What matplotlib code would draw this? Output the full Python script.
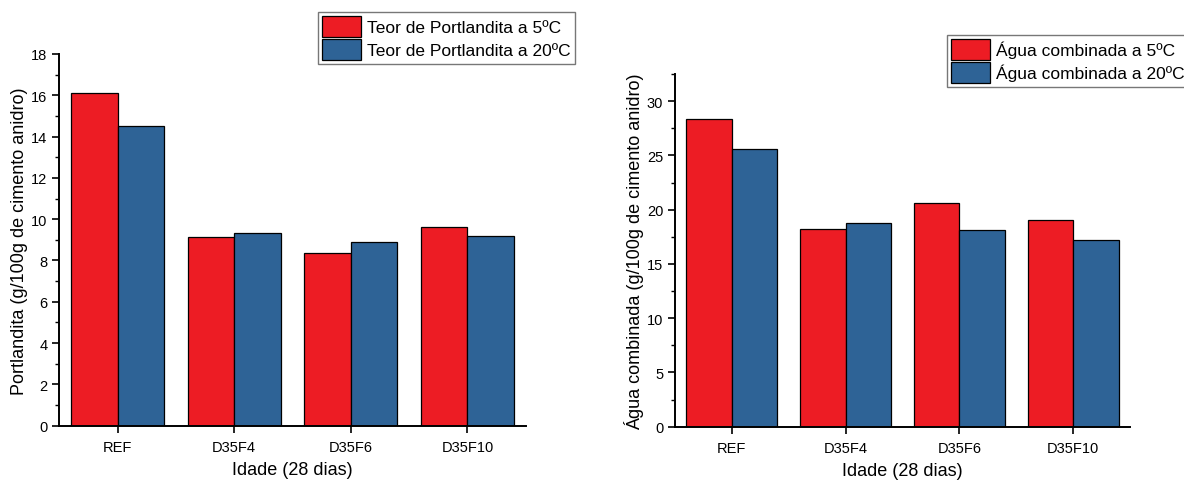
import matplotlib.pyplot as plt
import numpy as np
from matplotlib.ticker import MultipleLocator

plt.rcParams['font.family'] = ['Liberation Sans', 'DejaVu Sans']

# dados
amostras = ["REF", "D35F4", "D35F6", "D35F10"]
portlandita_5 = [16.1, 9.15, 8.38, 9.64]
portlandita_20 = [14.5, 9.35, 8.9, 9.19]
agua_5 = [28.4, 18.18, 20.65, 19.02]
agua_20 = [25.56, 18.77, 18.12, 17.2]

vermelho = "#ED1C24"
azul = "#2E6396"

fig = plt.figure(figsize=(11.84, 4.81), dpi=100)
ax1 = fig.add_axes([0.0501, 0.1129, 0.3939, 0.7728])
ax2 = fig.add_axes([0.5701, 0.1108, 0.3843, 0.7332])

x = np.arange(len(amostras))
w = 0.4


def barras(ax, s5, s20, lab5, lab20, ymax, major, minor, ylabel):
    ax.bar(x - w/2, s5, w, color=vermelho, edgecolor="black", linewidth=0.9, label=lab5)
    ax.bar(x + w/2, s20, w, color=azul, edgecolor="black", linewidth=0.9, label=lab20)
    ax.set_xlim(-0.5, 3.5)
    ax.set_ylim(0, ymax)
    ax.set_xticks(x)
    ax.set_xticklabels(amostras, fontsize=10.5)
    ax.yaxis.set_major_locator(MultipleLocator(major))
    ax.yaxis.set_minor_locator(MultipleLocator(minor))
    ax.tick_params(axis="y", labelsize=10.5, length=5, width=1.2, direction="out")
    ax.tick_params(axis="y", which="minor", length=3, width=1.0)
    ax.tick_params(axis="x", length=5, width=1.2, direction="out", pad=5)
    for s in ["top", "right"]:
        ax.spines[s].set_visible(False)
    for s in ["left", "bottom"]:
        ax.spines[s].set_linewidth(1.4)
    ax.set_xlabel("Idade (28 dias)", fontsize=13, labelpad=5)
    ax.set_ylabel(ylabel, fontsize=13, labelpad=2)


barras(ax1, portlandita_5, portlandita_20,
       "Teor de Portlandita a 5ºC", "Teor de Portlandita a 20ºC",
       18, 2, 1, "Portlandita (g/100g de cimento anidro)")
barras(ax2, agua_5, agua_20,
       "Água combinada a 5ºC", "Água combinada a 20ºC",
       32.5, 5, 2.5, "Água combinada (g/100g de cimento anidro)")

# legendas no topo (posicao em pixels da figura)
for ax, pos in [(ax1, (318/1184, 1 - 13/481)), (ax2, (947/1184, 1 - 36/481))]:
    leg = ax.legend(loc="upper left", bbox_to_anchor=pos, bbox_transform=fig.transFigure,
                    fontsize=12.5, frameon=True, fancybox=False, borderpad=0.25,
                    handlelength=2.2, handleheight=1.45, handletextpad=0.4,
                    labelspacing=0.12, borderaxespad=0)
    leg.get_frame().set_edgecolor("#555555")
    leg.get_frame().set_linewidth(1.0)

fig.savefig("out.png", dpi=100)
